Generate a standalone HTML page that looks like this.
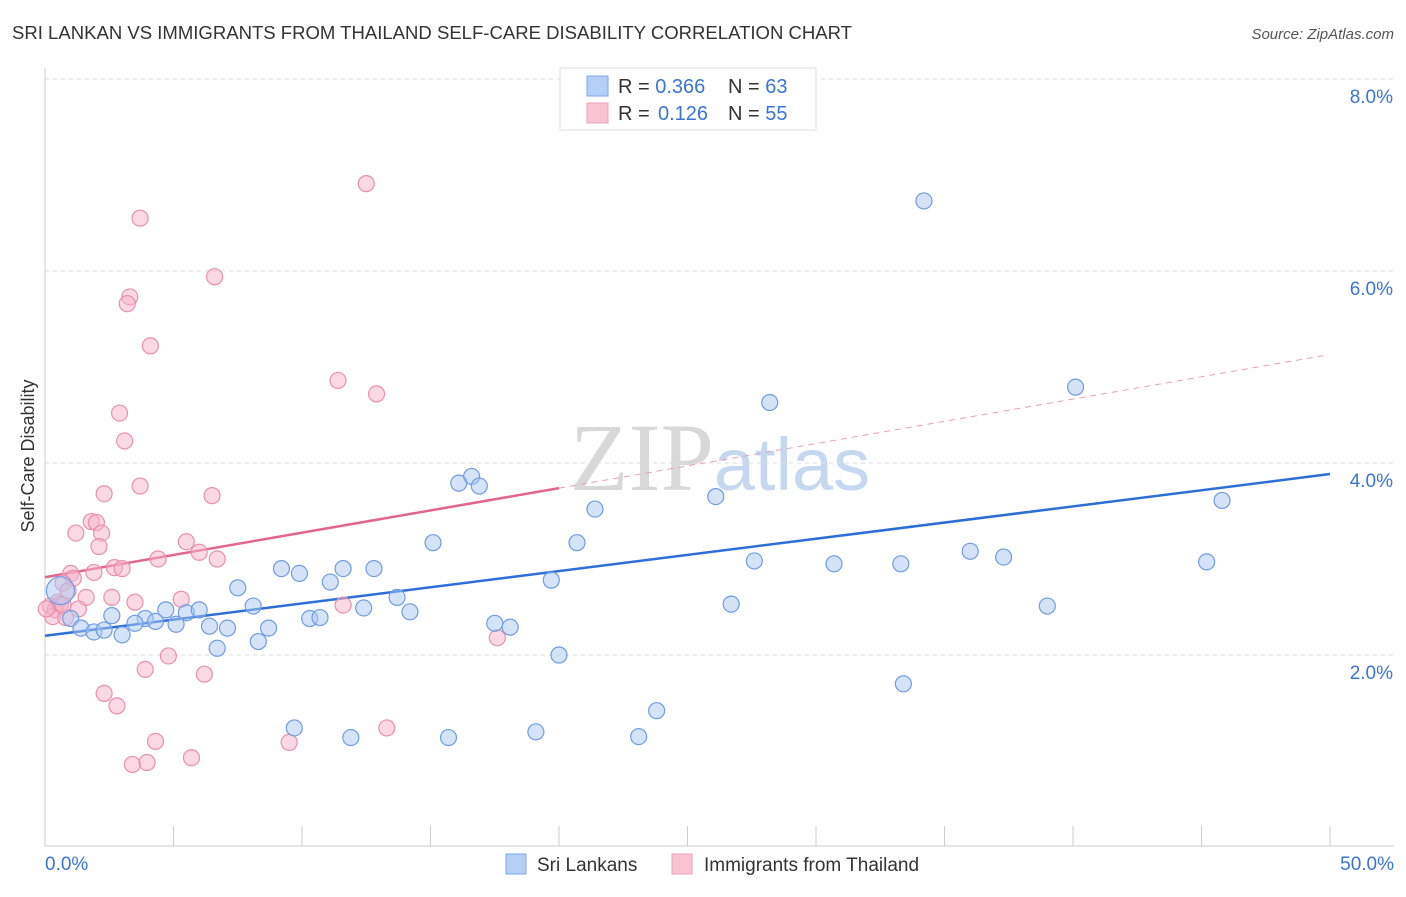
<!DOCTYPE html>
<html><head><meta charset="utf-8"><style>
body{margin:0;background:#fff;font-family:"Liberation Sans",sans-serif}
svg text{font-family:"Liberation Sans",sans-serif}
</style></head><body>
<svg id="c" width="1406" height="892" viewBox="0 0 1406 892">
<text x="12" y="39" font-size="18.5" fill="#333" textLength="840" lengthAdjust="spacingAndGlyphs">SRI LANKAN VS IMMIGRANTS FROM THAILAND SELF-CARE DISABILITY CORRELATION CHART</text>
<text x="1394" y="39" font-size="15" fill="#555" font-style="italic" text-anchor="end">Source: ZipAtlas.com</text>
<text x="34" y="456" font-size="18" fill="#333" text-anchor="middle" transform="rotate(-90 34 456)">Self-Care Disability</text>
<text x="720" y="490" font-size="96" fill="#d8d8d8" text-anchor="middle" font-family="Liberation Serif"><tspan font-family="Liberation Serif">ZIP</tspan><tspan fill="#c6d8f0" font-family="Liberation Sans" font-size="74">atlas</tspan></text>
<g id="grid"></g><g id="axes"></g><g id="lines"></g><g id="pts"></g>
<g>
<rect x="560" y="68" width="256" height="62" fill="#fff" stroke="#ddd"/>
<rect x="587" y="76" width="21" height="20" fill="#b3cff5" stroke="#7fa8e8"/>
<rect x="587" y="103" width="21" height="20" fill="#f9c3d3" stroke="#eea0bb"/>
<text x="618" y="93" font-size="20" fill="#333">R = <tspan fill="#3a75d4">0.366</tspan><tspan x="728">N = </tspan><tspan fill="#3a75d4">63</tspan></text>
<text x="618" y="120" font-size="20" fill="#333">R = <tspan fill="#3a75d4" x="658">0.126</tspan><tspan x="728">N = </tspan><tspan fill="#3a75d4">55</tspan></text>
</g>
<g>
<rect x="506" y="854" width="20" height="20" fill="#b3cff5" stroke="#7fa8e8"/>
<text x="537" y="871" font-size="19" fill="#333">Sri Lankans</text>
<rect x="672" y="854" width="20" height="20" fill="#f9c3d3" stroke="#eea0bb"/>
<text x="704" y="871" font-size="19" fill="#333">Immigrants from Thailand</text>
</g>
</svg>
<script>
const yTicks=[2,4,6,8];
const yTickLabels=["2.0%","4.0%","6.0%","8.0%"];
const xTickLabels=["0.0%","50.0%"];
const blueX=[34.2,40.1,28.2,45.8,16.6,16.1,16.9,26.1,21.4,15.1,20.7,36.0,37.3,27.6,30.7,33.3,45.2,9.2,9.9,11.6,12.8,11.1,19.7,7.5,13.7,26.7,39.0,8.1,12.4,14.2,10.3,10.7,2.6,3.9,4.3,4.7,5.5,6.0,5.1,3.5,6.4,7.1,8.7,17.5,18.1,1.0,1.4,1.9,2.3,3.0,8.3,6.7,20.0,33.4,23.8,9.7,11.9,15.7,19.1,23.1,0.6];
const blueY=[6.73,4.79,4.63,3.61,3.86,3.79,3.76,3.65,3.52,3.17,3.17,3.08,3.02,2.98,2.95,2.95,2.97,2.90,2.85,2.90,2.90,2.76,2.78,2.70,2.60,2.53,2.51,2.51,2.49,2.45,2.38,2.39,2.41,2.38,2.35,2.47,2.44,2.47,2.32,2.33,2.30,2.28,2.28,2.33,2.29,2.38,2.28,2.24,2.26,2.21,2.14,2.07,2.00,1.70,1.42,1.24,1.14,1.14,1.20,1.15,2.67];
const pinkX=[12.5,3.7,6.6,3.3,3.2,4.1,11.4,12.9,2.9,3.1,3.7,2.3,6.5,1.2,1.8,2.0,2.2,2.1,5.5,6.0,4.4,6.7,2.7,3.0,1.9,1.0,1.1,0.7,0.9,1.6,2.6,3.5,5.3,0.5,0.2,0.4,1.3,0.3,0.8,11.6,17.6,4.8,3.9,6.2,2.3,2.8,4.3,9.5,13.3,5.7,3.4,3.97,0.6,0.05,0.7];
const pinkY=[6.91,6.55,5.94,5.73,5.66,5.22,4.86,4.72,4.52,4.23,3.76,3.68,3.66,3.27,3.39,3.38,3.27,3.13,3.18,3.07,3.00,3.00,2.91,2.90,2.86,2.85,2.80,2.75,2.67,2.60,2.60,2.55,2.58,2.55,2.51,2.47,2.48,2.40,2.39,2.52,2.18,1.99,1.85,1.80,1.60,1.47,1.10,1.09,1.24,0.93,0.86,0.88,2.53,2.48,2.52];
const blueLine=[2.20,3.885];
const pinkLine=[2.81,5.13];
const NS="http://www.w3.org/2000/svg";
const X=v=>45+v*25.7, Y=v=>847-v*96;
function mk(t,a,p){const e=document.createElementNS(NS,t);for(const k in a)e.setAttribute(k,a[k]);p.appendChild(e);return e;}
const grid=document.getElementById('grid'),axes=document.getElementById('axes'),lines=document.getElementById('lines'),pts=document.getElementById('pts');
yTicks.forEach((t,i)=>{
 const l=mk('line',{x1:45,x2:1394,y1:Y(t),y2:Y(t),stroke:'#ddd','stroke-dasharray':'4,4'},grid);
 
 
 const tx=mk('text',{x:1393,y:Y(t)+24,'font-size':19,fill:'#3a75d4','text-anchor':'end'},axes);
 tx.textContent=yTickLabels[i];
 
 
});
mk('line',{x1:45,x2:45,y1:68,y2:846,stroke:'#ccc'},axes);
mk('line',{x1:45,x2:1394,y1:846,y2:846,stroke:'#ccc'},axes);
for(let i=0;i<=10;i++){const t=mk('line',{x1:X(i*5),x2:X(i*5),y1:826,y2:846,stroke:'#ccc'},axes);
 
 }
[[0,45,'start'],[50,1394,'end']].forEach((d,i)=>{const t=mk('text',{x:d[1],y:870,'font-size':19,fill:'#3a75d4','text-anchor':d[2]},axes);t.textContent=xTickLabels[i];
 
 });
function pt(xs,ys,fill,stroke,name){xs.forEach((x,i)=>{const c=mk('circle',{cx:X(x),cy:Y(ys[i]),r:i==xs.length-1&&name=='sri-lankan-point'?14:8,fill:fill,'fill-opacity':0.5,stroke:stroke,'stroke-width':1.2},pts);
 
 });}
pt(pinkX,pinkY,'#f7b4c9','#ea8fae','thailand-point');
pt(blueX,blueY,'#a9c8f2','#6e9de0','sri-lankan-point');
const bl=mk('line',{x1:X(0),y1:Y(blueLine[0]),x2:X(50),y2:Y(blueLine[1]),stroke:'#2d6fd6','stroke-width':2.5},lines);


const py=x=>pinkLine[0]+(pinkLine[1]-pinkLine[0])*x/50;
const pl=mk('line',{x1:X(0),y1:Y(py(0)),x2:X(20),y2:Y(py(20)),stroke:'#e2658f','stroke-width':2.5},lines);


const pd=mk('line',{x1:X(20),y1:Y(py(20)),x2:X(49.8),y2:Y(py(49.8)),stroke:'#e8a0b8','stroke-width':1,'stroke-dasharray':'6,5'},lines);


</script>
</body></html>
